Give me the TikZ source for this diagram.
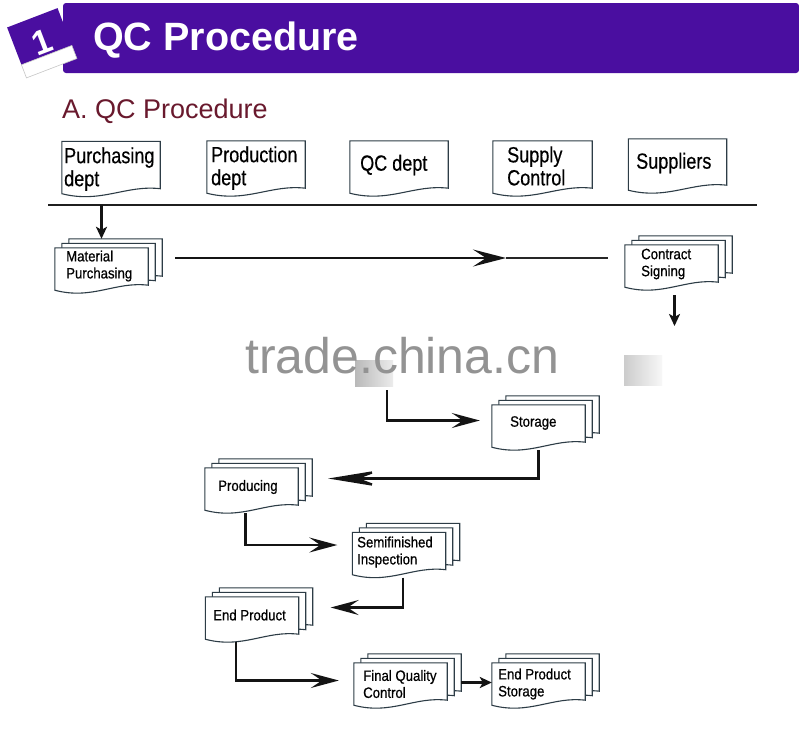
\documentclass[tikz,border=0pt]{standalone}
\usepackage{fontspec}
\setmainfont{Liberation Sans}
\newfontfamily\deptfont[FakeStretch=0.82,FakeBold=0.4]{Liberation Sans}
\newfontfamily\procfont[FakeStretch=0.88,FakeBold=0.6]{Liberation Sans}
\usetikzlibrary{arrows.meta,calc}
\definecolor{bannerc}{RGB}{74,14,160}
\definecolor{docc}{RGB}{45,60,70}
\definecolor{subc}{RGB}{105,25,45}
\tikzset{
  docline/.style={draw=docc, line width=1.1pt, fill=white},
  boxn/.style={draw=none, minimum width=93pt, minimum height=45pt, inner sep=0pt},
  dboxn/.style={draw=none, minimum width=98pt, minimum height=55pt, inner sep=0pt},
  dtext/.style={anchor=west, inner sep=0pt, align=left, font=\deptfont\fontsize{22}{23}\selectfont, text=black},
  ptext/.style={anchor=west, inner sep=0pt, align=left, font=\procfont\fontsize{15}{17}\selectfont, text=black},
  conn/.style={line width=2.3pt, draw=black!92},
  arrA/.style={conn, -{Stealth[length=28pt,width=15pt,inset=11pt]}},
  arrL/.style={conn, -{Stealth[length=55pt,width=18pt,inset=24pt]}},
  arrS/.style={conn, -{Stealth[length=12pt,width=11pt,inset=3pt]}},
}
\newcommand\docat[3]{\path[docline] let \p1=([xshift=#2,yshift=#3]#1.north west), \p2=([xshift=#2,yshift=#3]#1.south east), \n1={\x2-\x1} in (\x1,\y1) -- (\x2,\y1) -- (\x2,\y2+8pt) .. controls (\x2-0.35*\n1,\y2+12pt) and (\x1+0.4*\n1,\y2-7pt) .. (\x1,\y2+3pt) -- cycle;}
\newcommand\multidoc[1]{\docat{#1}{14pt}{9pt}\docat{#1}{7pt}{4.5pt}\docat{#1}{0pt}{0pt}}
\begin{document}
\begin{tikzpicture}[x=1pt,y=-1pt]
\useasboundingbox (0,0) rectangle (799,745);
\fill[white] (0,0) rectangle (799,745);
% header
\fill[bannerc, rounded corners=3pt] (63,3) rectangle (799,73);
\begin{scope}[shift={(42,43)}, rotate=21]
  \fill[bannerc] (-27,-27) rectangle (27,13);
  \node[text=white, font=\bfseries\fontsize{34}{34}\selectfont, transform shape] (one) at (1,-1) {1};
  \filldraw[fill=white, draw=gray!45, line width=0.6pt] (-27,13) rectangle (27,27);
\end{scope}
\node[anchor=base west, inner sep=0pt, text=white, font=\bfseries\fontsize{39.5}{39.5}\selectfont] (title) at (93,50) {QC Procedure};
\node[anchor=base west, inner sep=0pt, text=subc, font=\fontsize{27}{27}\selectfont] (sub) at (62,118) {A. QC Procedure};
% department documents
\node[dboxn] (pd) at (111,169) {};
\node[dboxn] (prd) at (256,168.5) {};
\node[dboxn] (qc) at (399,168.5) {};
\node[dboxn, minimum width=99pt] (sc) at (542.5,168.5) {};
\node[dboxn, minimum height=54pt] (sup) at (677.5,166) {};
\docat{pd}{0pt}{0pt}\docat{prd}{0pt}{0pt}\docat{qc}{0pt}{0pt}\docat{sc}{0pt}{0pt}\docat{sup}{0pt}{0pt}
\node[dtext] (pdt) at (64,169) {Purchasing\\dept};
\node[dtext] (prdt) at (211,168) {Production\\dept};
\node[dtext] (qct) at (360,165) {QC dept};
\node[dtext] (sct) at (507,166) {Supply\\Control};
\node[dtext] (supt) at (636,163) {Suppliers};
% divider
\coordinate (L1) at (48,205);
\coordinate (L2) at (757,205);
\draw[line width=2.6pt, draw=black!88] (L1) -- (L2);
% process documents
\node[boxn] (mp) at (101.5,270.5) {};
\node[boxn] (cs) at (671.5,267.5) {};
\node[boxn] (st) at (538.5,427.5) {};
\node[boxn] (pr) at (251.5,490.5) {};
\node[boxn] (si) at (399,555) {};
\node[boxn] (ep) at (252,619.5) {};
\node[boxn] (fqc) at (400.5,685.5) {};
\node[boxn] (eps) at (538.5,685.5) {};
\multidoc{mp}\multidoc{cs}\multidoc{st}\multidoc{pr}\multidoc{si}\multidoc{ep}\multidoc{fqc}\multidoc{eps}
\node[ptext] (mpt) at (66,266) {Material\\Purchasing};
\node[ptext] (cst) at (641,264) {Contract\\Signing};
\node[ptext] (stt) at (510,423) {Storage};
\node[ptext] (prt) at (218,487) {Producing};
\node[ptext] (sit) at (357,552) {Semifinished\\Inspection};
\node[ptext] (ept) at (213,615) {End Product};
\node[ptext] (fqct) at (363,684) {Final Quality\\Control};
\node[ptext] (epst) at (498,684) {End Product\\Storage};
% blurred boxes
\node[draw=none, minimum width=38pt, minimum height=26pt, inner sep=0pt, left color=gray!55, right color=gray!15] (b1) at (374,373) {};
\node[draw=none, minimum width=38pt, minimum height=30pt, inner sep=0pt, left color=gray!40, right color=gray!6] (b2) at (643,370) {};
% connectors
\draw[arrS] (mp.north |- L1) -- ([yshift=9pt]mp.north);
\coordinate (a1s) at (175,258);
\coordinate (a1t) at (506,258);
\coordinate (a1e) at (608,258);
\draw[conn, -{Stealth[length=33pt,width=17pt,inset=13pt]}] (a1s) -- (a1t);
\draw[line width=1.6pt, draw=black!85] (a1t) -- (a1e);
\coordinate (csd) at (674.5,326);
\draw[arrS] ([xshift=3pt,yshift=-5pt]cs.south) -- (csd);
\coordinate (b1s) at (387,390);
\draw[arrA] (b1s) |- ([xshift=-12pt,yshift=7pt]st.west);
\draw[arrL] (st.south) |- ([xshift=30pt,yshift=12pt]pr.east);
\draw[arrA] ([xshift=-6pt]pr.south) |- ([xshift=-15pt,yshift=10pt]si.west);
\draw[arrA] ([xshift=4pt]si.south) |- ([xshift=32pt,yshift=12pt]ep.east);
\draw[arrA] ([xshift=-16pt]ep.south) |- ([xshift=-15pt,yshift=5pt]fqc.west);
\draw[arrS] ([xshift=14pt,yshift=3pt]fqc.east) -- ([yshift=3pt]eps.west);
% watermark
\node[anchor=base west, inner sep=0pt, text=gray!85, font=\fontsize{50}{50}\selectfont] (wm) at (245,373) {trade.china.cn};
\end{tikzpicture}
\end{document}
